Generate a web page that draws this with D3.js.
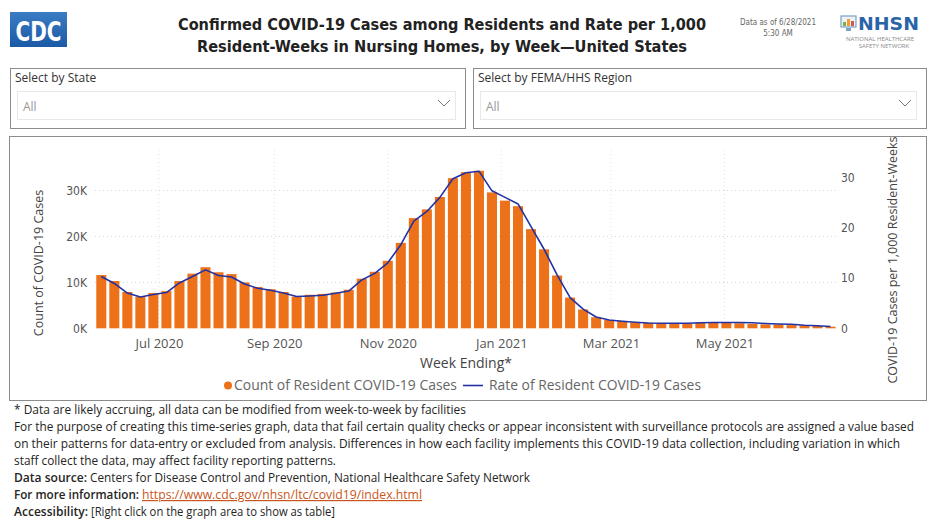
<!DOCTYPE html>
<html>
<head>
<meta charset="utf-8">
<script src="https://cdn.jsdelivr.net/npm/d3@7"></script>
<style>
  body { margin: 0; background: #fff; }
  svg text { font-family: "Segoe UI", "Open Sans", sans-serif; }
</style>
</head>
<body>
<div id="chart"></div>
<script>
// Week ending dates (Sundays)
const weeks = [
  "2020-05-31","2020-06-07","2020-06-14","2020-06-21","2020-06-28","2020-07-05","2020-07-12",
  "2020-07-19","2020-07-26","2020-08-02","2020-08-09","2020-08-16","2020-08-23","2020-08-30",
  "2020-09-06","2020-09-13","2020-09-20","2020-09-27","2020-10-04","2020-10-11","2020-10-18",
  "2020-10-25","2020-11-01","2020-11-08","2020-11-15","2020-11-22","2020-11-29","2020-12-06",
  "2020-12-13","2020-12-20","2020-12-27","2021-01-03","2021-01-10","2021-01-17","2021-01-24",
  "2021-01-31","2021-02-07","2021-02-14","2021-02-21","2021-02-28","2021-03-07","2021-03-14",
  "2021-03-21","2021-03-28","2021-04-04","2021-04-11","2021-04-18","2021-04-25","2021-05-02",
  "2021-05-09","2021-05-16","2021-05-23","2021-05-30","2021-06-06","2021-06-13","2021-06-20",
  "2021-06-27"
];

// Count of resident COVID-19 cases
const caseCounts = [
  11600, 10300, 7900, 6900, 7700, 8100, 10300, 11900, 13300, 12200, 11800, 10000, 9000, 8500,
  7900, 6900, 7300, 7500, 7800, 8400, 10800, 12300, 14700, 18600, 24000, 25900, 28600, 32700,
  34000, 34300, 29600, 27800, 26600, 21600, 17200, 11500, 6700, 4100, 2400, 1800, 1600, 1300,
  1200, 1100, 1100, 1000, 1200, 1200, 1200, 1100, 950, 850, 850, 700, 600, 500, 350
];

// Rate per 1,000 resident-weeks
const caseRates = [
  10.3, 8.9, 7.0, 6.2, 6.7, 7.1, 9.0, 10.3, 11.6, 10.5, 10.2, 8.8, 7.95, 7.55,
  7.0, 6.3, 6.4, 6.55, 6.95, 7.4, 9.6, 10.9, 13.0, 16.6, 21.3, 23.2, 26.0, 29.7,
  30.9, 31.2, 27.3, 26.0, 24.7, 20.2, 15.7, 10.6, 6.1, 3.8, 2.25, 1.65, 1.4, 1.2,
  1.05, 1.0, 1.0, 1.0, 1.1, 1.15, 1.15, 1.15, 1.1, 0.95, 0.85, 0.8, 0.6, 0.5, 0.35
];

const countTicks = [0, 10000, 20000, 30000];
const rateTicks = [0, 10, 20, 30];
const monthTicks = ["2020-07-01", "2020-09-01", "2020-11-01", "2021-01-01", "2021-03-01", "2021-05-01"];

const titleLines = [
  "Confirmed COVID-19 Cases among Residents and Rate per 1,000",
  "Resident-Weeks in Nursing Homes, by Week\u2014United States"
];

const footerLines = [
  "* Data are likely accruing, all data can be modified from week-to-week by facilities",
  "For the purpose of creating this time-series graph, data that fail certain quality checks or appear inconsistent with surveillance protocols are assigned a value based",
  "on their patterns for data-entry or excluded from analysis. Differences in how each facility implements this COVID-19 data collection, including variation in which",
  "staff collect the data, may affect facility reporting patterns."
];

const parse = d3.timeParse("%Y-%m-%d");
const data = weeks.map((w, i) => ({date: parse(w), count: caseCounts[i], rate: caseRates[i]}));

const W = 936, H = 528;
const svg = d3.select("#chart").append("svg")
  .attr("width", W).attr("height", H);

// ---------- Header ----------
const cdc = svg.append("g");
const grad = svg.append("defs").append("linearGradient")
  .attr("id", "cdcGrad").attr("x1", 0).attr("x2", 0).attr("y1", 0).attr("y2", 1);
grad.append("stop").attr("offset", "0%").attr("stop-color", "#3a7cc4");
grad.append("stop").attr("offset", "100%").attr("stop-color", "#1b5aa6");
cdc.append("rect").attr("x", 10).attr("y", 12).attr("width", 57).attr("height", 35)
  .attr("fill", "url(#cdcGrad)");
cdc.append("text").attr("x", 38.5).attr("y", 41).attr("text-anchor", "middle")
  .style("font-family", "DejaVu Sans Condensed").style("font-weight", "bold")
  .style("font-size", "27px").attr("fill", "#fff")
  .attr("textLength", 46).attr("lengthAdjust", "spacingAndGlyphs")
  .text("CDC");

const titleWidths = [528, 490];
titleLines.forEach((t, i) => {
  svg.append("text")
    .attr("x", 442).attr("y", 30 + i * 22)
    .attr("text-anchor", "middle")
    .style("font-family", "DejaVu Sans Condensed")
    .style("font-weight", "bold").style("font-size", "16.5px")
    .attr("fill", "#222")
    .attr("textLength", titleWidths[i]).attr("lengthAdjust", "spacingAndGlyphs")
    .text(t);
});

svg.append("text").attr("x", 778).attr("y", 25).attr("text-anchor", "middle")
  .style("font-family", "DejaVu Sans Condensed").style("font-size", "8px").attr("fill", "#666")
  .text("Data as of 6/28/2021");
svg.append("text").attr("x", 778).attr("y", 36).attr("text-anchor", "middle")
  .style("font-family", "DejaVu Sans Condensed").style("font-size", "8px").attr("fill", "#666")
  .text("5:30 AM");

// NHSN logo
const nhsn = svg.append("g");
nhsn.append("rect").attr("x", 841).attr("y", 16).attr("width", 15).attr("height", 11)
  .attr("fill", "#eaf2f8").attr("stroke", "#7aa0c4").attr("stroke-width", 1.2);
[["#7bb342", 843, 22, 4], ["#f0a030", 847, 19, 7], ["#d9534f", 851, 21, 5]].forEach(b => {
  nhsn.append("rect").attr("x", b[1]).attr("y", b[2]).attr("width", 3).attr("height", b[3]).attr("fill", b[0]);
});
nhsn.append("rect").attr("x", 846).attr("y", 28).attr("width", 5).attr("height", 3).attr("fill", "#7aa0c4");
nhsn.append("text").attr("x", 858).attr("y", 30)
  .style("font-family", "DejaVu Sans").style("font-weight", "bold").style("font-size", "17px")
  .attr("fill", "#2a64a8").attr("textLength", 61).attr("lengthAdjust", "spacingAndGlyphs")
  .text("NHSN");
nhsn.append("text").attr("x", 880).attr("y", 40.5).attr("text-anchor", "middle")
  .style("font-size", "6px").attr("fill", "#8a8a8a").text("NATIONAL HEALTHCARE");
nhsn.append("text").attr("x", 884).attr("y", 47.5).attr("text-anchor", "middle")
  .style("font-size", "6px").attr("fill", "#8a8a8a").text("SAFETY NETWORK");

// ---------- Slicers ----------
const slicers = [
  {x: 10, w: 455, label: "Select by State"},
  {x: 473, w: 453, label: "Select by FEMA/HHS Region"}
];
slicers.forEach(s => {
  const g = svg.append("g");
  g.append("rect").attr("x", s.x + 0.5).attr("y", 68.5).attr("width", s.w).attr("height", 60)
    .attr("fill", "#fff").attr("stroke", "#8c8c8c");
  g.append("text").attr("x", s.x + 5).attr("y", 82)
    .style("font-size", "12px").attr("fill", "#333").text(s.label);
  g.append("rect").attr("x", s.x + 7.5).attr("y", 91.5).attr("width", s.w - 17).attr("height", 28)
    .attr("fill", "#fff").attr("stroke", "#e8e8e8");
  g.append("text").attr("x", s.x + 13).attr("y", 111)
    .style("font-size", "12px").attr("fill", "#999").text("All");
  const cx = s.x + s.w - 21;
  g.append("path").attr("d", `M${cx - 6},100 L${cx},106 L${cx + 6},100`)
    .attr("fill", "none").attr("stroke", "#777").attr("stroke-width", 1);
});

// ---------- Chart box ----------
svg.append("rect").attr("x", 9.5).attr("y", 136.5).attr("width", 917).attr("height", 264)
  .attr("fill", "#fff").attr("stroke", "#8c8c8c");

const plot = {left: 92, right: 838, top: 146, bottom: 328.3};

const x = d3.scaleTime()
  .domain([d3.timeDay.offset(data[0].date, -5), d3.timeDay.offset(data[data.length - 1].date, 4)])
  .range([plot.left, plot.right]);
const step = x(data[1].date) - x(data[0].date);
const barW = step * 0.77;

const yCount = d3.scaleLinear().domain([0, 39700]).range([plot.bottom, plot.top]);
const yRate = d3.scaleLinear().domain([0, 36.2]).range([plot.bottom, plot.top]);

// Gridlines (dotted)
svg.append("g").selectAll("line").data(countTicks.filter(d => d > 0)).join("line")
  .attr("x1", plot.left + 3).attr("x2", plot.right)
  .attr("y1", d => yCount(d)).attr("y2", d => yCount(d))
  .attr("stroke", "#d4d4d4").attr("stroke-dasharray", "1,3");
svg.append("g").selectAll("line").data(monthTicks.map(parse)).join("line")
  .attr("x1", d => x(d)).attr("x2", d => x(d))
  .attr("y1", plot.top + 4).attr("y2", plot.bottom)
  .attr("stroke", "#e2e2e2").attr("stroke-dasharray", "1,3");

// Bars
svg.append("g").selectAll("rect").data(data).join("rect")
  .attr("x", d => x(d.date) - barW / 2)
  .attr("y", d => yCount(d.count))
  .attr("width", barW)
  .attr("height", d => plot.bottom - yCount(d.count))
  .attr("fill", "#ec7118");

// Rate line
const line = d3.line().x(d => x(d.date)).y(d => yRate(d.rate));
svg.append("path").datum(data)
  .attr("d", line)
  .attr("fill", "none").attr("stroke", "#2232a4").attr("stroke-width", 1.6)
  .attr("stroke-linejoin", "round");

// Axes
const xAxis = d3.axisBottom(x).tickValues(monthTicks.map(parse))
  .tickFormat(d3.timeFormat("%b %Y")).tickSize(0).tickPadding(10);
const gx = svg.append("g").attr("transform", `translate(0,${plot.bottom})`).call(xAxis);
gx.select(".domain").remove();
gx.selectAll("text").style("font-size", "13px").attr("fill", "#555")
  .style("font-family", "'Segoe UI','Open Sans',sans-serif");

const yLeft = d3.axisLeft(yCount).tickValues(countTicks)
  .tickFormat(d => (d / 1000) + "K").tickSize(0).tickPadding(4);
const gl = svg.append("g").attr("transform", `translate(${plot.left - 1},0)`).call(yLeft);
gl.select(".domain").remove();
gl.selectAll("text").style("font-size", "12px").attr("fill", "#555")
  .style("font-family", "'DejaVu Sans Condensed',sans-serif");

const yRight = d3.axisRight(yRate).tickValues(rateTicks).tickSize(0).tickPadding(4);
const gr = svg.append("g").attr("transform", `translate(${plot.right - 1},0)`).call(yRight);
gr.select(".domain").remove();
gr.selectAll("text").style("font-size", "12px").attr("fill", "#555")
  .style("font-family", "'DejaVu Sans Condensed',sans-serif");

// Axis titles
svg.append("text").attr("transform", "translate(43,263) rotate(-90)")
  .attr("text-anchor", "middle").style("font-size", "12.5px").attr("fill", "#444")
  .text("Count of COVID-19 Cases");
svg.append("text").attr("transform", "translate(897,260) rotate(-90)")
  .attr("text-anchor", "middle").style("font-size", "12.5px").attr("fill", "#444")
  .text("COVID-19 Cases per 1,000 Resident-Weeks");
svg.append("text").attr("x", 466).attr("y", 368).attr("text-anchor", "middle")
  .style("font-size", "14px").attr("fill", "#444").text("Week Ending*");

// Legend
const legend = svg.append("g");
legend.append("circle").attr("cx", 228).attr("cy", 385.5).attr("r", 4).attr("fill", "#ec7118");
legend.append("text").attr("x", 234).attr("y", 390).style("font-size", "14px").attr("fill", "#666")
  .attr("textLength", 223).attr("lengthAdjust", "spacingAndGlyphs")
  .text("Count of Resident COVID-19 Cases");
legend.append("line").attr("x1", 463).attr("x2", 483).attr("y1", 385.5).attr("y2", 385.5)
  .attr("stroke", "#2232a4").attr("stroke-width", 1.6);
legend.append("text").attr("x", 489).attr("y", 390).style("font-size", "14px").attr("fill", "#666")
  .attr("textLength", 212).attr("lengthAdjust", "spacingAndGlyphs")
  .text("Rate of Resident COVID-19 Cases");

// ---------- Footer ----------
const footFont = "'Segoe UI','Open Sans',sans-serif";
const footWidths = [452, 900, 886, 322];
footerLines.forEach((t, i) => {
  svg.append("text").attr("x", 14).attr("y", 414 + i * 17)
    .style("font-size", "12px").style("font-family", footFont).attr("fill", "#252423")
    .attr("textLength", footWidths[i]).attr("lengthAdjust", "spacingAndGlyphs")
    .text(t);
});

const footRows = [
  {label: "Data source:", lw: 73, text: "Centers for Disease Control and Prevention, National Healthcare Safety Network", tw: 440, link: false},
  {label: "For more information:", lw: 125, text: "https://www.cdc.gov/nhsn/ltc/covid19/index.html", tw: 280, link: true},
  {label: "Accessibility:", lw: 74, text: "[Right click on the graph area to show as table]", tw: 244, link: false}
];
footRows.forEach((r, i) => {
  const yy = 482 + i * 17;
  svg.append("text").attr("x", 14).attr("y", yy)
    .style("font-size", "12px").style("font-family", footFont).style("font-weight", 600)
    .attr("fill", "#252423")
    .attr("textLength", r.lw).attr("lengthAdjust", "spacingAndGlyphs")
    .text(r.label);
  svg.append("text").attr("x", 14 + r.lw + 3).attr("y", yy)
    .style("font-size", "12px").style("font-family", footFont)
    .attr("fill", r.link ? "#c8561c" : "#252423")
    .style("text-decoration", r.link ? "underline" : null)
    .attr("textLength", r.tw).attr("lengthAdjust", "spacingAndGlyphs")
    .text(r.text);
});
</script>
</body>
</html>
